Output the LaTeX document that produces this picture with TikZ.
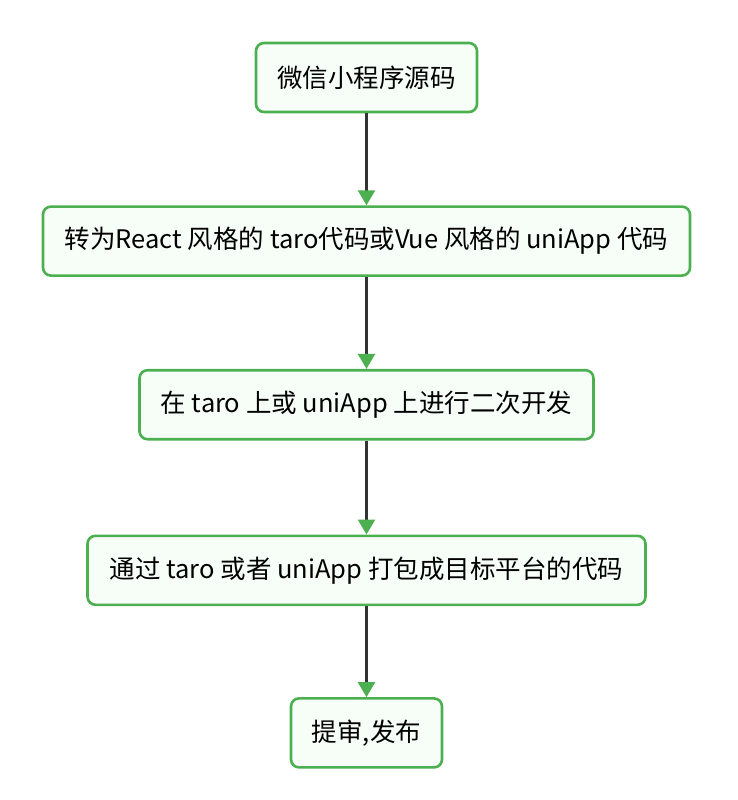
\documentclass[tikz,border=0pt]{standalone}
\usepackage{fontspec}
\setmainfont{Noto Sans CJK SC}
\usetikzlibrary{arrows.meta, positioning}
\definecolor{boxgreen}{HTML}{4CAF50}
\definecolor{boxfill}{HTML}{F7FDF7}
\definecolor{linegray}{HTML}{333333}

\begin{document}
\begin{tikzpicture}[x=1pt,y=1pt,node distance=92pt,
  main node/.style={rectangle,rounded corners=8pt,draw=boxgreen,fill=boxfill,line width=2.6pt,
    minimum height=69pt,inner xsep=20pt,font=\fontsize{25.5}{30}\selectfont},
  flow/.style={draw=linegray,line width=2.4pt,-{Triangle[width=17pt,length=15pt,color=boxgreen]}}]
  \useasboundingbox (0,0) rectangle (737,-800);
  \node[main node,minimum width=221pt] (1) at (366.5,-77.5) {微信小程序源码};
  \node[main node,minimum width=647pt] (2) [below=of 1] {转为React 风格的 taro代码或Vue 风格的 uniApp 代码};
  \node[main node,minimum width=454pt] (3) [below=of 2] {在 taro 上或 uniApp 上进行二次开发};
  \node[main node,minimum width=558pt] (4) [below=94pt of 3] {通过 taro 或者 uniApp 打包成目标平台的代码};
  \node[main node,minimum width=151pt] (5) [below=91pt of 4] {提审,发布};
  \path[flow]
    (1) edge (2)
    (2) edge (3)
    (3) edge (4)
    (4) edge (5);
\end{tikzpicture}
\end{document}
